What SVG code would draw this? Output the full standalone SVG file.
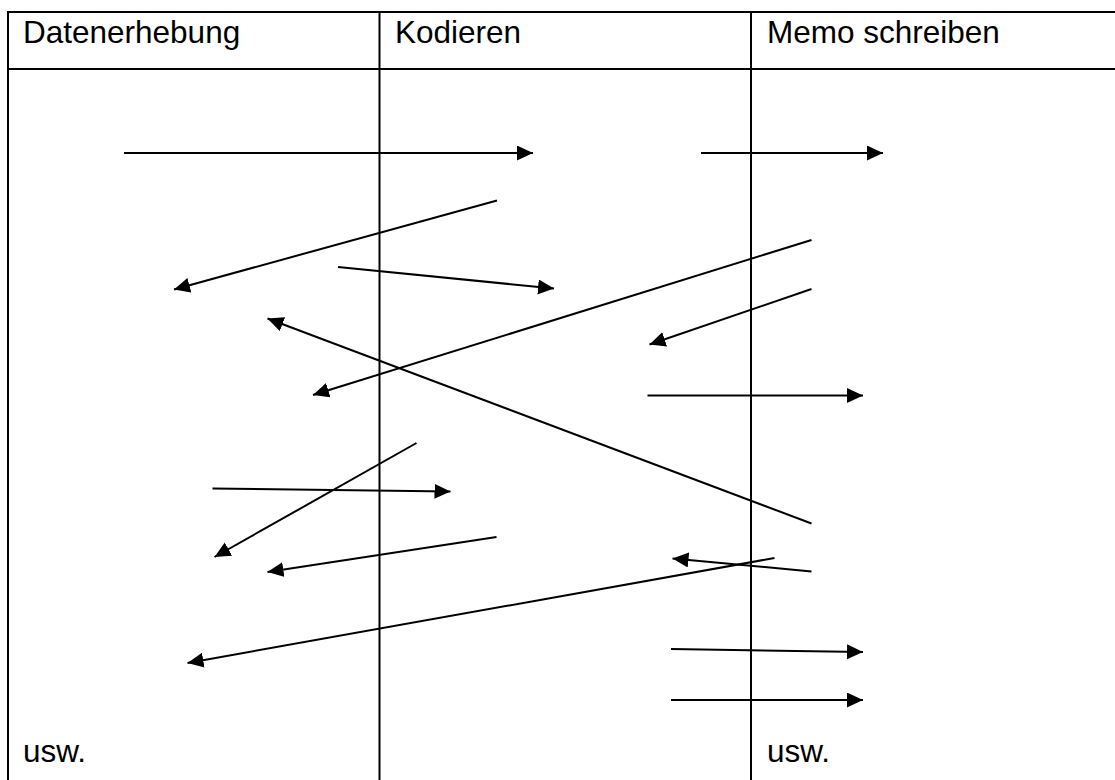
<svg xmlns="http://www.w3.org/2000/svg" width="1115" height="780" viewBox="0 0 1115 780">
  <style>
    .grid { stroke: #000; stroke-width: 2; fill: none; }
    .head { font-family: "Liberation Sans", Arial, sans-serif; font-size: 31.5px; fill: #000; }
    .flow { stroke: #000; stroke-width: 2; fill: none; marker-end: url(#tip); }
  </style>
  <defs>
    <marker id="tip" markerUnits="userSpaceOnUse" markerWidth="18" markerHeight="16" refX="16" refY="7.5" orient="auto">
      <path d="M0,0 L16,7.5 L0,15 z" fill="#000"/>
    </marker>
  </defs>
  <rect width="1115" height="780" fill="#fff"/>

  <!-- table frame, open to the right and bottom -->
  <g id="table">
    <path class="grid" d="M8,781 V12 H1116"/>
    <path class="grid" d="M8,69 H1116"/>
    <path class="grid" d="M379.5,12 V781"/>
    <path class="grid" d="M751,12 V781"/>
  </g>

  <g id="col-datenerhebung">
    <text class="head" x="23" y="43">Datenerhebung</text>
    <text class="head" x="23" y="762">usw.</text>
  </g>
  <g id="col-kodieren">
    <text class="head" x="395" y="43">Kodieren</text>
  </g>
  <g id="col-memo">
    <text class="head" x="767" y="43">Memo schreiben</text>
    <text class="head" x="767" y="762">usw.</text>
  </g>

  <g id="connectors">
    <line class="flow" x1="124" y1="153" x2="533" y2="153"/>
    <line class="flow" x1="701" y1="153" x2="883" y2="153"/>
    <line class="flow" x1="497" y1="200.5" x2="174" y2="289.5"/>
    <line class="flow" x1="338" y1="267" x2="554" y2="288.5"/>
    <line class="flow" x1="811.5" y1="240" x2="313" y2="395"/>
    <line class="flow" x1="811.5" y1="289" x2="649.5" y2="344.5"/>
    <line class="flow" x1="811.5" y1="523.5" x2="267.5" y2="318.5"/>
    <line class="flow" x1="647.5" y1="395.5" x2="863" y2="395.5"/>
    <line class="flow" x1="416.5" y1="443" x2="214.5" y2="557"/>
    <line class="flow" x1="212.5" y1="488.5" x2="450.5" y2="491.5"/>
    <line class="flow" x1="496.5" y1="537" x2="267.5" y2="572"/>
    <line class="flow" x1="811.5" y1="571.5" x2="672.5" y2="558.5"/>
    <line class="flow" x1="774.5" y1="558" x2="187.5" y2="663"/>
    <line class="flow" x1="671" y1="649" x2="863" y2="652"/>
    <line class="flow" x1="671" y1="700" x2="863" y2="700"/>
  </g>
</svg>
